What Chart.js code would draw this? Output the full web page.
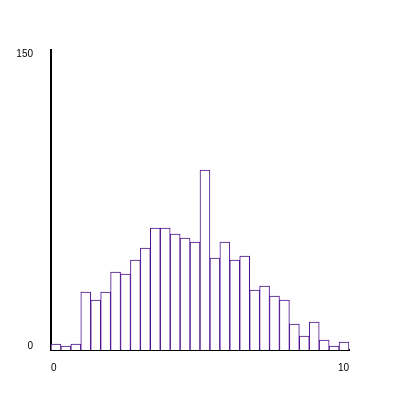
<!DOCTYPE html>
<html>
<head>
<meta charset="UTF-8">
<script src="https://cdn.jsdelivr.net/npm/chart.js"></script>
<style>
  html, body { margin: 0; padding: 0; background: #fff; }
  #wrap { width: 400px; height: 400px; }
</style>
</head>
<body>
<div id="wrap"><canvas id="hist"></canvas></div>
<script>
  // 30 bins of width 1/3 from 0 to 10
  const binLabels = [];
  for (let i = 0; i < 30; i++) binLabels.push(String(i));
  const counts = [3, 2, 3, 29, 25, 29, 39, 38, 45, 51,
                  61, 61, 58, 56, 54, 90, 46, 54, 45, 47,
                  30, 32, 27, 25, 13, 7, 14, 5, 2, 4];
  const xTickValues = [0, 10];
  const yTickValues = [0, 150];

  const tickFont = { family: 'Liberation Sans, Arial', size: 10 };

  new Chart(document.getElementById('hist'), {
    type: 'bar',
    data: {
      labels: binLabels,
      datasets: [{
        data: counts,
        backgroundColor: '#ffffff',
        borderColor: '#4b0f8c',
        borderWidth: 1,
        barPercentage: 1,
        categoryPercentage: 1
      }]
    },
    options: {
      responsive: true,
      maintainAspectRatio: false,
      animation: false,
      layout: { padding: { top: 50, right: 51, left: 0, bottom: 0 } },
      plugins: { legend: { display: false }, tooltip: { enabled: false } },
      scales: {
        x: { display: false },
        xv: {
          type: 'linear',
          position: 'bottom',
          offset: false,
          min: 0, max: 10,
          afterBuildTicks: s => { s.ticks = xTickValues.map(v => ({ value: v })); },
          afterFit: s => { s.height = 50; },
          grid: { display: false, drawTicks: false, tickLength: 0 },
          border: { display: true, color: '#000', width: 2 },
          ticks: { padding: 12, align: 'inner', color: '#000', font: tickFont }
        },
        y: {
          min: 0, max: 150,
          afterBuildTicks: s => { s.ticks = yTickValues.map(v => ({ value: v })); },
          afterFit: s => { s.width = 51; },
          grid: { display: false, drawTicks: false, tickLength: 0 },
          border: { display: true, color: '#000', width: 2 },
          ticks: {
            padding: 18,
            color: '#000',
            font: { family: tickFont.family, size: 10, lineHeight: 0.8 },
            // keep the end labels inside the axis span: top one down, bottom one up
            callback: v => v === 150 ? ['', String(v)] : [String(v), '']
          }
        }
      }
    }
  });
</script>
</body>
</html>
